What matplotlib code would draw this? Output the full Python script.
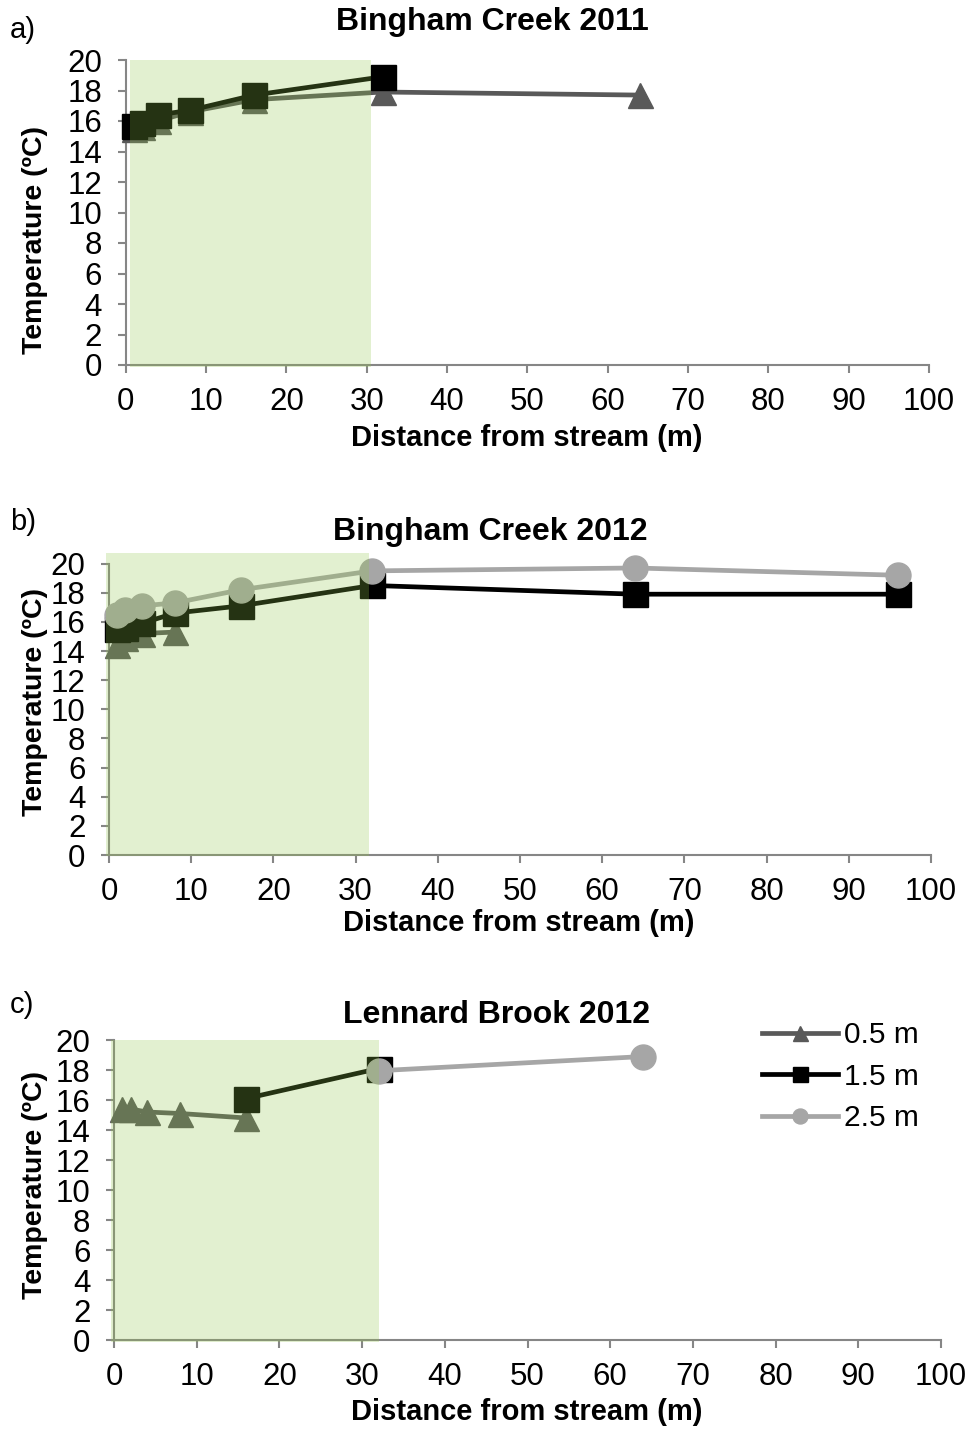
import matplotlib
matplotlib.use("Agg")
import matplotlib.pyplot as plt
from matplotlib.patches import Rectangle

plt.rcParams['font.family'] = ['Liberation Sans', 'DejaVu Sans']

# distance from stream (m) and temperature (degC) for each probe depth
a_x_05 = [1, 2, 4, 8, 16, 32, 64]
a_t_05 = [15.5, 15.6, 16.0, 16.6, 17.4, 17.9, 17.7]
a_x_15 = [1, 2, 4, 8, 16, 32]
a_t_15 = [15.7, 15.9, 16.4, 16.7, 17.7, 18.9]

b_x_05 = [1, 2, 4, 8]
b_t_05 = [14.4, 14.9, 15.2, 15.3]
b_x_15 = [1, 2, 4, 8, 16, 32, 64, 96]
b_t_15 = [15.5, 15.6, 15.9, 16.6, 17.1, 18.5, 17.9, 17.9]
b_x_25 = [1, 2, 4, 8, 16, 32, 64, 96]
b_t_25 = [16.5, 16.8, 17.1, 17.3, 18.2, 19.5, 19.7, 19.2]

c_x_05 = [1, 2, 4, 8, 16]
c_t_05 = [15.4, 15.4, 15.2, 15.1, 14.8]
c_x_15 = [16, 32]
c_t_15 = [16.1, 18.1]
c_x_25 = [32, 64]
c_t_25 = [17.95, 18.9]

depths = ['0.5 m', '1.5 m', '2.5 m']
colors = ['#595959', '#000000', '#A6A6A6']
markers = ['^', 's', 'o']

# layout in pixels: axes box, title / xlabel / ylabel / tag anchor points
panels = [
    dict(tag='a)', title='Bingham Creek 2011',
         series=[(a_x_05, a_t_05), (a_x_15, a_t_15), None],
         rect=[125.7, 60, 929, 365], zone=(0.55, 30.5, 20.0),
         title_xy=(492, 22), xlab_xy=(527, 438), ylab_y=240, tag_y=30),
    dict(tag='b)', title='Bingham Creek 2012',
         series=[(b_x_05, b_t_05), (b_x_15, b_t_15), (b_x_25, b_t_25)],
         rect=[109, 563.6, 931, 855], zone=(-0.35, 31.6, 20.75),
         title_xy=(490, 532), xlab_xy=(519, 923), ylab_y=702, tag_y=522),
    dict(tag='c)', title='Lennard Brook 2012',
         series=[(c_x_05, c_t_05), (c_x_15, c_t_15), (c_x_25, c_t_25)],
         rect=[114, 1040, 941, 1340], zone=(-0.35, 32.0, 20.0),
         title_xy=(496, 1015), xlab_xy=(527, 1412), ylab_y=1185, tag_y=1005),
]

W, H = 966, 1429
fig = plt.figure(figsize=(W / 100, H / 100), dpi=100)
grey = '#868686'


def fx(px):
    return px / W


def fy(py):
    return 1 - py / H


for p in panels:
    x0, y0, x1, y1 = p['rect']
    ax = fig.add_axes([fx(x0), fy(y1), (x1 - x0) / W, (y1 - y0) / H])
    for (s, col, mk, lab) in zip(p['series'], colors, markers, depths):
        if s is None:
            ax.plot([], [], color=col, marker=mk, lw=3.4, ms=18, label=lab)
            continue
        ax.plot(s[0], s[1], color=col, marker=mk, lw=3.4, ms=18, label=lab,
                clip_on=False, zorder=3)
    # riparian buffer zone shading
    zl, zr, zt = p['zone']
    ax.add_patch(Rectangle((zl, -0.1), zr - zl, zt + 0.1, facecolor='#92C64A',
                           alpha=0.26, lw=0, zorder=5, clip_on=False))
    ax.set_xlim(0, 100)
    ax.set_ylim(0, 20)
    ax.set_xticks(range(0, 101, 10))
    ax.set_yticks(range(0, 21, 2))
    for side in ['top', 'right']:
        ax.spines[side].set_visible(False)
    for side in ['left', 'bottom']:
        ax.spines[side].set_color(grey)
        ax.spines[side].set_linewidth(1.5)
    ax.tick_params(direction='out', length=6, width=1.5, color=grey,
                   labelsize=22.5)
    ax.tick_params(axis='y', pad=11)
    ax.tick_params(axis='x', pad=10)

    fig.text(fx(p['title_xy'][0]), fy(p['title_xy'][1]), p['title'],
             fontsize=23, fontweight='bold', ha='center', va='center')
    fig.text(fx(p['xlab_xy'][0]), fy(p['xlab_xy'][1]), 'Distance from stream (m)',
             fontsize=21, fontweight='bold', ha='center', va='center')
    fig.text(fx(35), fy(p['ylab_y']), 'Temperature (ºC)', rotation=90,
             fontsize=20.5, fontweight='bold', ha='center', va='center')
    fig.text(fx(10), fy(p['tag_y']), p['tag'], fontsize=21,
             ha='left', va='center')

    if p['tag'] == 'c)':
        ax.legend(loc='upper left', bbox_to_anchor=(fx(762), fy(1021)),
                  bbox_transform=fig.transFigure, frameon=False, fontsize=21.5,
                  markerscale=0.6, handlelength=2.55, handletextpad=0.2,
                  labelspacing=0.46, borderpad=0, borderaxespad=0)

fig.savefig('out.png', dpi=100)
